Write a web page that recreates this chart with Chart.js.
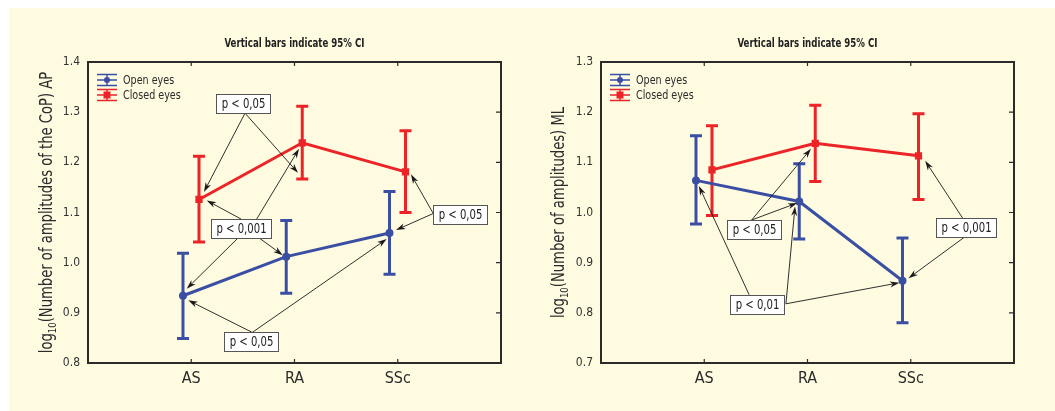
<!DOCTYPE html>
<html lang="en">
<head>
<meta charset="UTF-8">
<title>Vertical bars indicate 95% CI</title>
<script src="https://cdn.jsdelivr.net/npm/chart.js"></script>
<style>
  html, body { margin: 0; padding: 0; background: #fff; }
  .panel { position: absolute; left: 9px; top: 8px; width: 1046px; height: 403px; background: #fefbe0; }
  .box { position: absolute; top: 8px; height: 403px; }
  #boxAP { left: 9px; width: 518px; }
  #boxML { left: 527px; width: 528px; }
</style>
</head>
<body>
<div class="panel"></div>
<div class="box" id="boxAP"><canvas id="chartAP"></canvas></div>
<div class="box" id="boxML"><canvas id="chartML"></canvas></div>

<script>
const categories = ['AS', 'RA', 'SSc'];
const seriesNames = ['Open eyes', 'Closed eyes'];
const chartTitle = 'Vertical bars indicate 95% CI';

// AP: log10(number of amplitudes of the CoP)
const apOpenMean = [0.934, 1.012, 1.059];
const apOpenLow = [0.849, 0.939, 0.977];
const apOpenHigh = [1.019, 1.084, 1.142];
const apClosedMean = [1.126, 1.239, 1.181];
const apClosedLow = [1.041, 1.167, 1.100];
const apClosedHigh = [1.212, 1.312, 1.263];

// ML: log10(number of amplitudes)
const mlOpenMean = [1.064, 1.022, 0.864];
const mlOpenLow = [0.977, 0.947, 0.780];
const mlOpenHigh = [1.153, 1.097, 0.949];
const mlClosedMean = [1.085, 1.138, 1.113];
const mlClosedLow = [0.994, 1.062, 1.026];
const mlClosedHigh = [1.173, 1.214, 1.197];

const yTicksAP = [0.8, 0.9, 1.0, 1.1, 1.2, 1.3, 1.4];
const yTicksML = [0.7, 0.8, 0.9, 1.0, 1.1, 1.2, 1.3];

// p-value labels
const apPLabels = ['p < 0,05', 'p < 0,001', 'p < 0,05', 'p < 0,05'];
const mlPLabels = ['p < 0,05', 'p < 0,01', 'p < 0,001'];

// where the labels sit and where their arrows point (axis units)
const apNotes = [
  { box: [1.506, 1.317], arrows: [[1.521, 1.298, 1.123, 1.141], [1.521, 1.298, 2.034, 1.179]] },
  { box: [1.477, 1.069], arrows: [[1.482, 1.087, 1.150, 1.124], [1.634, 1.087, 2.044, 1.227],
                                  [1.462, 1.051, 0.956, 0.948], [1.646, 1.051, 1.886, 1.015]] },
  { box: [1.579, 0.842], arrows: [[1.591, 0.861, 0.971, 0.925], [1.591, 0.861, 2.893, 1.047]] },
  { box: [3.601, 1.096], arrows: [[3.344, 1.098, 3.128, 1.176], [3.344, 1.098, 2.983, 1.065]] }
];
const mlNotes = [
  { box: [1.484, 0.966], arrows: [[1.459, 0.985, 2.034, 1.127], [1.459, 0.985, 1.901, 1.019]] },
  { box: [1.510, 0.816], arrows: [[1.435, 0.836, 0.948, 1.053], [1.791, 0.818, 1.879, 1.012],
                                  [1.791, 0.818, 2.890, 0.860]] },
  { box: [3.537, 0.970], arrows: [[3.505, 0.988, 3.140, 1.103], [3.521, 0.951, 2.978, 0.869]] }
];

const BLUE = '#3a4fa3';
const RED = '#ec2327';
const INK = '#2b2b2b';
const NARROW = "'Liberation Sans Narrow', 'Arial Narrow', 'DejaVu Sans Condensed', sans-serif";
const shift = [-0.08, 0.075];

Chart.defaults.font.family = NARROW;
Chart.defaults.color = INK;

function pts(means, k) {
  return means.map((v, i) => ({ x: i + 1 + shift[k], y: v }));
}

// squeeze text horizontally so it reads like the narrow original face
function narrowText(ctx, txt, x, y, sx) {
  ctx.save();
  ctx.translate(x, y);
  ctx.scale(sx, 1);
  ctx.fillText(txt, 0, 0);
  ctx.restore();
}

function arrow(ctx, x0, y0, x1, y1) {
  const a = Math.atan2(y1 - y0, x1 - x0);
  const L = 9.5, W = 3;
  const c = Math.cos(a), s = Math.sin(a);
  ctx.beginPath();
  ctx.moveTo(x0, y0);
  ctx.lineTo(x1 - c * L * 0.6, y1 - s * L * 0.6);
  ctx.stroke();
  ctx.beginPath();
  ctx.moveTo(x1, y1);
  ctx.lineTo(x1 - c * L + s * W, y1 - s * L - c * W);
  ctx.lineTo(x1 - c * L * 0.7, y1 - s * L * 0.7);
  ctx.lineTo(x1 - c * L - s * W, y1 - s * L + c * W);
  ctx.closePath();
  ctx.fill();
}

const decor = {
  id: 'decor',
  beforeDatasetsDraw(chart) {
    const ctx = chart.ctx, xs = chart.scales.x, ys = chart.scales.y;
    ctx.save();
    chart.data.datasets.forEach(ds => {
      ctx.strokeStyle = ds.borderColor;
      ctx.lineWidth = 3;
      ds.data.forEach((p, i) => {
        const cx = xs.getPixelForValue(p.x);
        const yl = ys.getPixelForValue(ds.low[i]);
        const yh = ys.getPixelForValue(ds.high[i]);
        ctx.beginPath();
        ctx.moveTo(cx, yl); ctx.lineTo(cx, yh);
        ctx.moveTo(cx - 6, yl); ctx.lineTo(cx + 6, yl);
        ctx.moveTo(cx - 6, yh); ctx.lineTo(cx + 6, yh);
        ctx.stroke();
      });
    });
    ctx.restore();
  },
  afterDatasetsDraw(chart, args, opts) {
    const ctx = chart.ctx, xs = chart.scales.x, ys = chart.scales.y;
    const X = v => xs.getPixelForValue(v), Y = v => ys.getPixelForValue(v);
    ctx.save();
    ctx.strokeStyle = '#1a1a1a';
    ctx.fillStyle = '#1a1a1a';
    ctx.lineWidth = 0.9;
    opts.notes.forEach(n => n.arrows.forEach(a => arrow(ctx, X(a[0]), Y(a[1]), X(a[2]), Y(a[3]))));
    ctx.font = '14px ' + NARROW;
    ctx.textAlign = 'center';
    ctx.textBaseline = 'middle';
    const sx = 0.8;
    opts.notes.forEach((n, i) => {
      const txt = opts.labels[i];
      const w = Math.round(ctx.measureText(txt).width * sx + 10), h = 19;
      const cx = X(n.box[0]), cy = Y(n.box[1]);
      const bx = Math.round(cx - w / 2), by = Math.round(cy - h / 2);
      ctx.fillStyle = '#fff';
      ctx.fillRect(bx, by, w, h);
      ctx.strokeStyle = '#555';
      ctx.lineWidth = 1;
      ctx.strokeRect(bx + 0.5, by + 0.5, w, h);
      ctx.fillStyle = '#222';
      narrowText(ctx, txt, bx + w / 2 + 0.5, by + h / 2 + 1, sx);
    });
    ctx.restore();
  },
  afterDraw(chart, args, opts) {
    const ctx = chart.ctx, area = chart.chartArea, xs = chart.scales.x, ys = chart.scales.y;
    ctx.save();
    // frame and inward ticks
    ctx.strokeStyle = INK;
    ctx.lineWidth = 2;
    ctx.strokeRect(area.left, area.top, area.right - area.left, area.bottom - area.top);
    ctx.lineWidth = 1.2;
    ctx.beginPath();
    xs.ticks.forEach(t => {
      const x = xs.getPixelForValue(t.value);
      ctx.moveTo(x, area.top); ctx.lineTo(x, area.top + 4);
      ctx.moveTo(x, area.bottom); ctx.lineTo(x, area.bottom - 4);
    });
    ys.ticks.forEach(t => {
      const y = ys.getPixelForValue(t.value);
      ctx.moveTo(area.right, y); ctx.lineTo(area.right - 5, y);
    });
    ctx.stroke();

    // chart title over the plot
    ctx.fillStyle = '#222';
    ctx.textAlign = 'center';
    ctx.textBaseline = 'middle';
    ctx.font = 'bold 12px ' + NARROW;
    narrowText(ctx, opts.title, (area.left + area.right) / 2, area.top - 18, 0.8);

    // legend
    ctx.font = '13px ' + NARROW;
    ctx.textAlign = 'left';
    chart.data.datasets.forEach((ds, k) => {
      const y = area.top + 18 + k * 15;
      const x0 = area.left + 9, x1 = area.left + 29, mx = (x0 + x1) / 2;
      ctx.strokeStyle = ds.borderColor;
      ctx.fillStyle = ds.borderColor;
      ctx.lineWidth = 1.4;
      ctx.beginPath();
      [-5.5, 0, 5.5].forEach(d => { ctx.moveTo(x0, y + d); ctx.lineTo(x1, y + d); });
      ctx.moveTo(mx, y - 5.5); ctx.lineTo(mx, y + 5.5);
      ctx.stroke();
      ctx.beginPath();
      if (k === 0) ctx.arc(mx, y, 3, 0, Math.PI * 2);
      else ctx.rect(mx - 3.5, y - 3.5, 7, 7);
      ctx.fill();
      ctx.fillStyle = INK;
      narrowText(ctx, ds.label, area.left + 35, y + 0.5, 0.82);
    });

    // y axis title with subscript
    const cy = (area.top + area.bottom) / 2;
    ctx.translate(opts.titleX, cy);
    ctx.rotate(-Math.PI / 2);
    ctx.scale(0.86, 1);
    const big = '17px ' + NARROW, small = '11px ' + NARROW;
    ctx.font = big;
    const w1 = ctx.measureText('log').width;
    const w3 = ctx.measureText(opts.yTitle).width;
    ctx.font = small;
    const w2 = ctx.measureText('10').width;
    const x = -(w1 + w2 + w3) / 2;
    ctx.fillStyle = INK;
    ctx.font = big;
    ctx.fillText('log', x, 0);
    ctx.font = small;
    ctx.fillText('10', x + w1, 5);
    ctx.font = big;
    ctx.fillText(opts.yTitle, x + w1 + w2, 0);
    ctx.restore();
  }
};

function makeChart(id, cfg) {
  return new Chart(document.getElementById(id), {
    type: 'line',
    data: {
      datasets: [
        { label: seriesNames[0], data: pts(cfg.open, 0), low: cfg.openLow, high: cfg.openHigh,
          borderColor: BLUE, backgroundColor: BLUE, borderWidth: 3, pointStyle: 'circle',
          pointRadius: 2.5, pointHoverRadius: 2.5, showLine: true, tension: 0 },
        { label: seriesNames[1], data: pts(cfg.closed, 1), low: cfg.closedLow, high: cfg.closedHigh,
          borderColor: RED, backgroundColor: RED, borderWidth: 3, pointStyle: 'rect',
          pointRadius: 3, pointHoverRadius: 3, showLine: true, tension: 0 }
      ]
    },
    options: {
      responsive: true,
      maintainAspectRatio: false,
      animation: false,
      events: [],
      layout: { padding: { left: 0, right: cfg.padRight, top: 54, bottom: 0 } },
      scales: {
        x: {
          type: 'linear', min: 0, max: 4,
          afterBuildTicks: s => { s.ticks = categories.map((c, i) => ({ value: i + 1 })); },
          afterFit: s => { s.height = 48; },
          grid: { display: false, drawTicks: false },
          border: { display: false },
          ticks: { callback: v => categories[v - 1], font: { size: 16 }, color: INK, padding: 6, maxRotation: 0 }
        },
        y: {
          min: cfg.yMin, max: cfg.yMax,
          afterBuildTicks: s => { s.ticks = cfg.yTicks.map(v => ({ value: v })); },
          afterFit: s => { s.width = cfg.axisWidth; },
          grid: { display: false, drawTicks: false },
          border: { display: false },
          ticks: { callback: v => v.toFixed(1), font: { size: 12 }, color: '#333', padding: 8 }
        }
      },
      plugins: {
        legend: { display: false },
        tooltip: { enabled: false },
        title: { display: false },
        decor: { notes: cfg.notes, labels: cfg.labels, yTitle: cfg.yTitle, titleX: cfg.titleX, title: chartTitle }
      }
    },
    plugins: [decor]
  });
}

makeChart('chartAP', {
  open: apOpenMean, openLow: apOpenLow, openHigh: apOpenHigh,
  closed: apClosedMean, closedLow: apClosedLow, closedHigh: apClosedHigh,
  yMin: 0.8, yMax: 1.4, yTicks: yTicksAP, axisWidth: 79, padRight: 26, titleX: 39,
  yTitle: '(Number of amplitudes of the CoP) AP', notes: apNotes, labels: apPLabels
});

makeChart('chartML', {
  open: mlOpenMean, openLow: mlOpenLow, openHigh: mlOpenHigh,
  closed: mlClosedMean, closedLow: mlClosedLow, closedHigh: mlClosedHigh,
  yMin: 0.7, yMax: 1.3, yTicks: yTicksML, axisWidth: 74, padRight: 41, titleX: 33,
  yTitle: '(Number of amplitudes) ML', notes: mlNotes, labels: mlPLabels
});
</script>
</body>
</html>
